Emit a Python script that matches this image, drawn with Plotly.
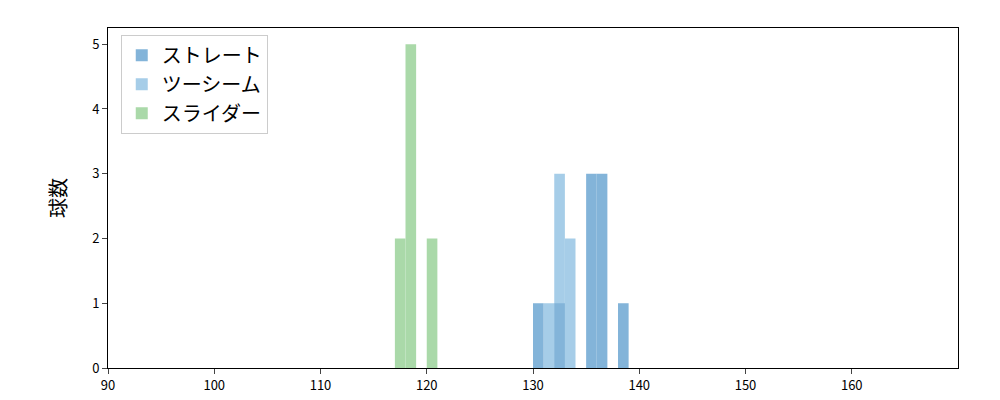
import plotly.graph_objects as go

straight_x = [130.5, 132.5, 135.5, 136.5, 138.5]
straight_y = [1, 1, 3, 3, 1]
twoseam_x = [131.5, 132.5, 133.5]
twoseam_y = [1, 3, 2]
slider_x = [117.5, 118.5, 120.5]
slider_y = [2, 5, 2]
xticks = [90, 100, 110, 120, 130, 140, 150, 160]

fig = go.Figure()
fig.add_bar(x=twoseam_x, y=twoseam_y, width=1, name="ツーシーム", legendrank=2, marker=dict(color="#a6cde8", line_width=0))
fig.add_bar(x=straight_x, y=straight_y, width=1, name="ストレート", legendrank=1, marker=dict(color="#83b4d9", line_width=0))
fig.add_bar(x=slider_x, y=slider_y, width=1, name="スライダー", legendrank=3, marker=dict(color="#aad9a9", line_width=0))
fig.update_layout(
    barmode="overlay", width=1000, height=400, plot_bgcolor="white", paper_bgcolor="white",
    margin=dict(l=100, r=50, t=20, b=40, autoexpand=False),
    font=dict(family="Noto Sans CJK JP", size=13, color="black"),
    legend=dict(x=0.015, y=0.98, xanchor="left", yanchor="top", font=dict(size=20),
                bordercolor="#cccccc", borderwidth=1, bgcolor="white", traceorder="normal"),
)
fig.update_xaxes(range=[90, 170], tickvals=xticks, ticks="outside", showgrid=False, zeroline=False,
                 showline=True, linecolor="black", mirror=True, automargin=False)
fig.update_yaxes(range=[0, 5.25], tickvals=[0, 1, 2, 3, 4, 5], ticks="outside", showgrid=False, zeroline=False,
                 showline=True, linecolor="black", mirror=True, automargin=False,
                 title=dict(text="球数", font=dict(size=20), standoff=20))
fig.write_html("out.html")
